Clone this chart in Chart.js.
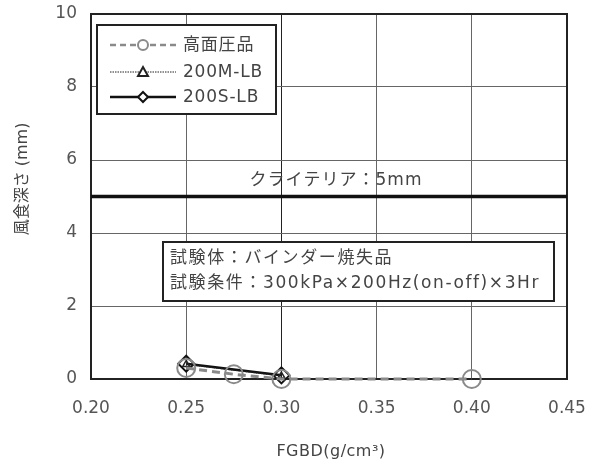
<!DOCTYPE html>
<html><head><meta charset="utf-8">
<script src="https://cdn.jsdelivr.net/npm/chart.js@4.4.1/dist/chart.umd.min.js"></script>
<style>html,body{margin:0;padding:0;background:#fff}#wrap{width:598px;height:468px}</style>
</head><body><div id="wrap"><canvas id="c" width="598" height="468"></canvas></div>
<script>
const xTickValues = [0.20, 0.25, 0.30, 0.35, 0.40, 0.45];
const yTickValues = [0, 2, 4, 6, 8, 10];
const seriesNames = ['高面圧品', '200M-LB', '200S-LB'];
const fgbdHigh = [0.25, 0.275, 0.30, 0.40];
const depthHigh = [0.30, 0.13, 0.0, 0.0];
const fgbdM = [0.25, 0.30];
const depthM = [0.40, 0.08];
const fgbdS = [0.25, 0.30];
const depthS = [0.42, 0.10];
const criteriaValue = 5;
const criteriaRange = [0.20, 0.45];
const criteriaLabel = 'クライテリア：5mm';
const noteLines = ['試験体：バインダー焼失品', '試験条件：300kPa×200Hz(on-off)×3Hr'];
const xTitle = 'FGBD(g/cm³)';
const yTitle = '風食深さ (mm)';

const FONT = '"DejaVu Sans", "Noto Sans CJK JP", sans-serif';
const pts = (xs, ys) => xs.map((x, i) => ({x, y: ys[i]}));

const overlay = {
  id: 'overlay',
  beforeDatasetsDraw(chart) {
    const {ctx, chartArea: a} = chart;
    ctx.save();
    ctx.strokeStyle = '#222'; ctx.lineWidth = 2;
    ctx.strokeRect(a.left, a.top, a.right - a.left, a.bottom - a.top);
    ctx.restore();
  },
  afterDraw(chart) {
    const {ctx, scales} = chart;
    ctx.save();
    ctx.fillStyle = '#444';
    ctx.font = '17px ' + FONT;
    ctx.letterSpacing = '1px';
    // criteria label
    ctx.textAlign = 'center'; ctx.textBaseline = 'middle';
    ctx.fillText(criteriaLabel, 336, scales.y.getPixelForValue(criteriaValue) - 16);
    // note box
    ctx.fillStyle = '#fff';
    ctx.fillRect(163, 242, 391, 59);
    ctx.strokeStyle = '#222'; ctx.lineWidth = 2;
    ctx.strokeRect(163, 242, 391, 59);
    ctx.fillStyle = '#444'; ctx.textAlign = 'left';
    ctx.letterSpacing = '1.6px';
    ctx.fillText(noteLines[0], 170, 259);
    ctx.fillText(noteLines[1], 170, 284);
    // legend
    ctx.letterSpacing = '0.8px';
    ctx.fillStyle = '#fff';
    ctx.fillRect(97, 25, 179, 89);
    ctx.strokeRect(97, 25, 179, 89);
    const rows = [45, 72, 97];
    chart.data.datasets.slice(0, 3).forEach((ds, i) => {
      const y = rows[i];
      ctx.save();
      ctx.strokeStyle = ds.borderColor;
      ctx.lineWidth = i === 0 ? 2.5 : (i === 1 ? 1 : 2.5);
      ctx.setLineDash(i === 0 ? [6, 4] : (i === 1 ? [1.5, 1] : []));
      ctx.beginPath(); ctx.moveTo(110, y); ctx.lineTo(176, y); ctx.stroke();
      ctx.setLineDash([]);
      ctx.fillStyle = '#fff';
      ctx.lineWidth = 2;
      ctx.strokeStyle = ds.pointBorderColor;
      ctx.beginPath();
      if (i === 0) { ctx.arc(143, y, 5, 0, Math.PI * 2); }
      else if (i === 1) { ctx.moveTo(143, y - 5); ctx.lineTo(148, y + 4); ctx.lineTo(138, y + 4); ctx.closePath(); }
      else { ctx.moveTo(143, y - 5); ctx.lineTo(148, y); ctx.lineTo(143, y + 5); ctx.lineTo(138, y); ctx.closePath(); }
      ctx.fill(); ctx.stroke();
      ctx.restore();
      ctx.fillStyle = '#444'; ctx.textAlign = 'left'; ctx.textBaseline = 'middle';
      ctx.fillText(ds.label, 183, y + 1);
    });
    // titles
    ctx.font = '16px ' + FONT;
    ctx.letterSpacing = '0.5px';
    ctx.textAlign = 'center';
    ctx.fillText(xTitle, 331, 452);
    ctx.letterSpacing = '0px';
    ctx.translate(23, 179); ctx.rotate(-Math.PI / 2);
    ctx.fillText(yTitle, 0, 0);
    ctx.restore();
  }
};

new Chart(document.getElementById('c'), {
  type: 'scatter',
  data: {
    datasets: [
      { label: seriesNames[0], data: pts(fgbdHigh, depthHigh), showLine: true,
        borderColor: '#8a8a8a', borderWidth: 3, borderDash: [8, 5],
        pointStyle: 'circle', pointRadius: 9, pointBorderWidth: 2,
        pointBorderColor: '#8a8a8a', pointBackgroundColor: 'rgba(0,0,0,0)', clip: false },
      { label: seriesNames[1], data: pts(fgbdM, depthM), showLine: true,
        borderColor: '#222', borderWidth: 1, borderDash: [1.5, 1],
        pointStyle: 'triangle', pointRadius: 4, pointBorderWidth: 1.5,
        pointBorderColor: '#222', pointBackgroundColor: 'rgba(0,0,0,0)', clip: false },
      { label: seriesNames[2], data: pts(fgbdS, depthS), showLine: true,
        borderColor: '#111', borderWidth: 2.5,
        pointStyle: 'rectRot', pointRadius: 8, pointBorderWidth: 2,
        pointBorderColor: '#111', pointBackgroundColor: 'rgba(0,0,0,0)', clip: false },
      { label: 'criteria', data: criteriaRange.map(x => ({x, y: criteriaValue})), showLine: true,
        borderColor: '#111', borderWidth: 3.5, pointRadius: 0 }
    ]
  },
  options: {
    responsive: false, animation: false, events: [],
    layout: { padding: { left: 0, right: 31, top: 14, bottom: 0 } },
    plugins: { legend: { display: false }, tooltip: { enabled: false } },
    scales: {
      x: {
        type: 'linear', min: xTickValues[0], max: xTickValues[xTickValues.length - 1],
        afterBuildTicks: s => { s.ticks = xTickValues.map(v => ({value: v})); },
        afterFit: s => { s.height = 89; s.paddingLeft = 0; s.paddingRight = 0; },
        border: { display: false },
        grid: { color: ctx => (ctx.tick && Math.abs(ctx.tick.value - 0.30) < 1e-6) ? '#222' : '#666', lineWidth: 1, drawTicks: false },
        ticks: { color: '#555', padding: 19, font: { family: FONT, size: 17 }, callback: v => Number(v).toFixed(2) }
      },
      y: {
        type: 'linear', min: 0, max: 10,
        afterBuildTicks: s => { s.ticks = yTickValues.map(v => ({value: v})); },
        afterFit: s => { s.width = 91; s.paddingTop = 0; s.paddingBottom = 0; },
        border: { display: false },
        grid: { color: '#666', lineWidth: 1, drawTicks: false },
        ticks: { color: '#555', padding: 14, font: { family: FONT, size: 17 } }
      }
    }
  },
  plugins: [overlay]
});
</script></body></html>
